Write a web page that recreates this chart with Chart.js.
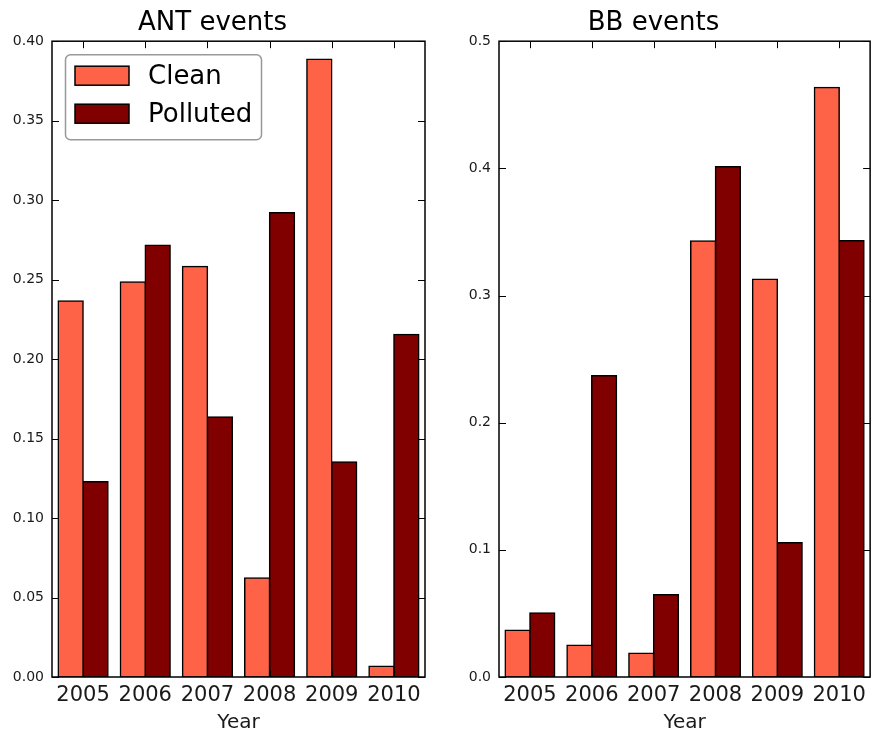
<!DOCTYPE html>
<html>
<head>
<meta charset="utf-8">
<title>ANT / BB events</title>
<script src="https://cdn.jsdelivr.net/npm/chart.js@4.4.1/dist/chart.umd.min.js"></script>
<style>
  html, body { margin: 0; padding: 0; background: #fff; }
  #wrap { position: relative; width: 872px; height: 732px; overflow: hidden; }
  canvas { position: absolute; top: 0; }
  #ant { left: 0; }
  #bb { left: 436px; }
</style>
</head>
<body>
<div id="wrap">
  <canvas id="ant" width="436" height="732"></canvas>
  <canvas id="bb" width="436" height="732"></canvas>
</div>
<script>
// ── Data ───────────────────────────────────────────────────

const years = ['2005', '2006', '2007', '2008', '2009', '2010'];

const antClean    = [0.2365, 0.2485, 0.2582, 0.0623, 0.3886, 0.0067];
const antPolluted = [0.1228, 0.2716, 0.1635, 0.2920, 0.1352, 0.2154];

const bbClean     = [0.0367, 0.0249, 0.0186, 0.3428, 0.3127, 0.4636];
const bbPolluted  = [0.0503, 0.2369, 0.0647, 0.4012, 0.1056, 0.3430];

const FONT = "'DejaVu Sans', Verdana, sans-serif";
const CLEAN_COLOR = '#ff6347';
const POLLUTED_COLOR = '#800000';

// ── Plugins ────────────────────────────────────────────────

// box frame with inward tick marks on all four sides
const frameTicks = {
  id: 'frameTicks',
  afterDatasetsDraw(chart) {
    const { ctx, chartArea: a, scales: { x, y } } = chart;
    const len = 7;
    ctx.save();
    ctx.strokeStyle = '#000';
    ctx.lineWidth = 1;
    ctx.beginPath();
    y.ticks.forEach((t, i) => {
      const py = Math.round(y.getPixelForTick(i)) + 0.5;
      ctx.moveTo(a.left, py);  ctx.lineTo(a.left + len, py);
      ctx.moveTo(a.right, py); ctx.lineTo(a.right - len, py);
    });
    x.ticks.forEach((t, i) => {
      const px = Math.round(x.getPixelForTick(i)) + 0.5;
      ctx.moveTo(px, a.top);    ctx.lineTo(px, a.top + len);
      ctx.moveTo(px, a.bottom); ctx.lineTo(px, a.bottom - len);
    });
    ctx.stroke();
    ctx.lineWidth = 1.5;
    ctx.strokeRect(a.left, a.top, a.right - a.left, a.bottom - a.top);
    ctx.restore();
  }
};

// legend box in the upper-left corner of the plot
const boxLegend = {
  id: 'boxLegend',
  afterDraw(chart, args, opts) {
    if (!opts.show) return;
    const { ctx, chartArea: a } = chart;
    const x0 = a.left + 13, y0 = a.top + 13, w = 196, h = 85, r = 5;
    ctx.save();
    ctx.beginPath();
    ctx.roundRect(x0 + 0.5, y0 + 0.5, w, h, r);
    ctx.fillStyle = '#fff';
    ctx.fill();
    ctx.strokeStyle = '#999';
    ctx.lineWidth = 1.5;
    ctx.stroke();

    ctx.font = `26px ${FONT}`;
    ctx.textBaseline = 'middle';
    chart.data.datasets.forEach((ds, i) => {
      const cy = y0 + 21.5 + i * 38;
      ctx.fillStyle = ds.backgroundColor;
      ctx.fillRect(x0 + 10, cy - 9.5, 54, 19);
      ctx.strokeStyle = '#000';
      ctx.lineWidth = 1.5;
      ctx.strokeRect(x0 + 10, cy - 9.5, 54, 19);
      ctx.fillStyle = '#000';
      ctx.fillText(ds.label, x0 + 83, cy + 1.5);
    });
    ctx.restore();
  }
};

// ── Chart builder ──────────────────────────────────────────

function makeChart(canvasId, title, clean, polluted, yMax, yStep, decimals, yWidth, padRight, showLegend) {
  const ctx = document.getElementById(canvasId).getContext('2d');
  const barStyle = {
    borderColor: '#000',
    borderWidth: 1.5,
    borderSkipped: false,
    inflateAmount: 0.75,
    barPercentage: 1.0,
    categoryPercentage: 0.8,
  };
  return new Chart(ctx, {
    type: 'bar',
    data: {
      labels: years,
      datasets: [
        { label: 'Clean', data: clean, backgroundColor: CLEAN_COLOR, ...barStyle },
        { label: 'Polluted', data: polluted, backgroundColor: POLLUTED_COLOR, ...barStyle },
      ],
    },
    options: {
      responsive: false,
      animation: false,
      layout: { padding: { left: 0, right: padRight, top: 0, bottom: 0 } },
      plugins: {
        legend: { display: false },
        tooltip: { enabled: false },
        title: {
          display: true,
          text: title,
          color: '#000',
          font: { family: FONT, size: 26, weight: 'normal' },
          padding: { top: 8, bottom: 2 },
        },
        boxLegend: { show: showLegend },
      },
      scales: {
        x: {
          grid: { display: false, drawTicks: false },
          border: { display: false },
          ticks: { color: '#1a1a1a', font: { family: FONT, size: 21 }, padding: 6, maxRotation: 0, autoSkip: false },
          title: {
            display: true,
            text: 'Year',
            color: '#1a1a1a',
            font: { family: FONT, size: 20, lineHeight: 1 },
            padding: { top: 0, bottom: -1 },
          },
          afterFit(s) { s.height = 55; },
        },
        y: {
          min: 0,
          max: yMax,
          grid: { display: false, drawTicks: false },
          border: { display: false },
          ticks: {
            stepSize: yStep,
            color: '#1a1a1a',
            font: { family: FONT, size: 14 },
            padding: 8,
            callback: v => v.toFixed(decimals),
          },
          afterFit(s) { s.width = yWidth; },
        },
      },
    },
    plugins: [frameTicks, boxLegend],
  });
}

makeChart('ant', 'ANT events', antClean, antPolluted, 0.4, 0.05, 2, 52, 11, true);
makeChart('bb', 'BB events', bbClean, bbPolluted, 0.5, 0.1, 1, 63, 1, false);
</script>
</body>
</html>
